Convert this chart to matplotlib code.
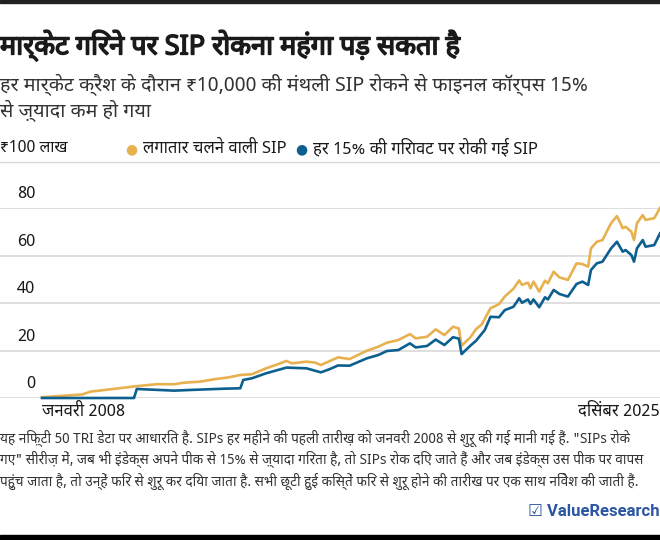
import matplotlib
matplotlib.use("Agg")
import matplotlib.pyplot as plt
import matplotlib.dates as mdates
import matplotlib.patheffects as pe
import pandas as pd

plt.rcParams['font.family'] = ['Noto Sans Devanagari', 'DejaVu Sans']

# values, in ₹ lakh
gold_dates = ["2008-01", "2009-03", "2009-06", "2009-11", "2010-10", "2011-05", "2011-11",
              "2012-02", "2012-08", "2013-01", "2013-06", "2013-10", "2014-02", "2014-07",
              "2014-11", "2015-02", "2015-04", "2015-09", "2015-12", "2016-02", "2016-05",
              "2016-08", "2016-12", "2017-06", "2017-10", "2018-01", "2018-05", "2018-09",
              "2018-11", "2019-03", "2019-06", "2019-09", "2019-12", "2020-02", "2020-03",
              "2020-06", "2020-08", "2020-10", "2021-01", "2021-04", "2021-06", "2021-09",
              "2021-11", "2021-12", "2022-02", "2022-03", "2022-04", "2022-06", "2022-08",
              "2022-09", "2022-11", "2023-01", "2023-04", "2023-07", "2023-09", "2023-11",
              "2023-12", "2024-02", "2024-04", "2024-07", "2024-09", "2024-11", "2024-12",
              "2025-02", "2025-03", "2025-04", "2025-06", "2025-07", "2025-10", "2025-12"]
gold_vals = [0.3, 1.5, 2.7, 3.4, 5.0, 5.8, 5.8,
             6.4, 6.9, 7.9, 8.7, 9.7, 10.0, 12.5,
             14.2, 15.6, 14.6, 15.3, 14.9, 13.9, 15.5,
             17.1, 16.4, 19.9, 21.6, 23.3, 24.4, 26.9,
             25.1, 25.8, 28.9, 26.5, 30.0, 29.3, 22.0,
             25.5, 29.0, 31.0, 37.8, 39.5, 42.7, 46.0,
             49.5, 47.6, 48.6, 46.2, 49.0, 44.8, 49.4,
             48.3, 53.2, 50.8, 49.7, 56.7, 56.4, 55.3,
             63.0, 65.8, 66.5, 73.6, 76.6, 71.5, 72.1,
             70.0, 66.5, 73.6, 77.0, 75.0, 75.7, 80.0]

blue_dates = ["2008-01", "2010-09", "2010-10", "2011-11", "2012-05", "2013-04", "2013-10",
              "2013-11", "2014-02", "2014-07", "2015-02", "2015-09", "2016-02", "2016-05",
              "2016-08", "2016-12", "2017-06", "2017-10", "2018-01", "2018-05", "2018-09",
              "2018-11", "2019-03", "2019-06", "2019-09", "2019-12", "2020-02", "2020-03",
              "2020-06", "2020-08", "2020-11", "2021-01", "2021-04", "2021-06", "2021-09",
              "2021-11", "2021-12", "2022-02", "2022-03", "2022-04", "2022-06", "2022-08",
              "2022-09", "2022-11", "2023-01", "2023-04", "2023-07", "2023-09", "2023-11",
              "2023-12", "2024-02", "2024-04", "2024-07", "2024-09", "2024-11", "2024-12",
              "2025-02", "2025-03", "2025-04", "2025-06", "2025-07", "2025-10", "2025-12"]
blue_vals = [0.0, 0.0, 3.8, 3.1, 3.4, 3.9, 4.1,
             7.6, 8.3, 10.4, 12.8, 12.5, 10.8, 12.1,
             13.7, 13.6, 16.7, 18.1, 19.8, 20.2, 23.0,
             21.3, 21.9, 24.6, 22.3, 25.6, 25.0, 18.5,
             22.0, 24.1, 28.6, 34.2, 34.0, 37.0, 38.4,
             42.0, 40.1, 41.5, 39.6, 41.5, 38.2, 42.4,
             41.5, 45.5, 43.8, 42.7, 48.0, 49.0, 47.6,
             53.9, 56.7, 57.4, 63.0, 65.8, 61.6, 62.3,
             60.2, 57.4, 63.0, 66.5, 63.7, 64.4, 69.3]

y_ticks = [0, 20, 40, 60, 80]

gold = "#e8b14f"
blue = "#0d5f8f"
grid = "#d9d9d9"
ink = "#1a1a1a"

fig = plt.figure(figsize=(6.6, 5.4), dpi=100)
W, H = 660, 540

def fx(px):
    return px / W

def fy(py):
    return 1 - py / H

# black bars top and bottom
fig.patches.append(plt.Rectangle((0, fy(3)), 1, 3 / H, transform=fig.transFigure,
                                 color="#222222", zorder=0))
fig.patches.append(plt.Rectangle((0, 0), 1, 5 / H, transform=fig.transFigure,
                                 color="#000000", zorder=0))

# title (bold faked with a stroke, the font has only one weight)
fig.text(0, fy(46), "मार्केट गिरने पर SIP रोकना महंगा पड़ सकता है",
         fontsize=19.5, color=ink, va="center", ha="left",
         path_effects=[pe.withStroke(linewidth=1.1, foreground=ink)])
fig.text(0, fy(85), "हर मार्केट क्रैश के दौरान ₹10,000 की मंथली SIP रोकने से फाइनल कॉर्पस 15%",
         fontsize=14.2, color="#333333", va="center", ha="left")
fig.text(0, fy(111), "से ज़्यादा कम हो गया",
         fontsize=14.2, color="#333333", va="center", ha="left")

# legend row
fig.text(0, fy(148), "₹100 लाख", fontsize=11.5, color=ink, va="center", ha="left")
fig.text(fx(131), fy(149), "●", fontsize=10, color=gold, va="center", ha="center",
         family=["DejaVu Sans"])
fig.text(fx(143), fy(148), "लगातार चलने वाली SIP", fontsize=12, color=ink,
         va="center", ha="left")
fig.text(fx(301), fy(149), "●", fontsize=10, color=blue, va="center", ha="center",
         family=["DejaVu Sans"])
fig.text(fx(313), fy(148), "हर 15% की गिरावट पर रोकी गई SIP", fontsize=12, color=ink,
         va="center", ha="left")
fig.add_artist(plt.Line2D([0, 1], [fy(162), fy(162)], transform=fig.transFigure,
                          color=grid, lw=1))

# chart area: 0 at y=398px, 80 at y=208px
ax = fig.add_axes([0, fy(398), 1, 190 / H])
gd = pd.to_datetime(gold_dates)
bd = pd.to_datetime(blue_dates)
ax.plot(gd, gold_vals, color=gold, lw=1.9, clip_on=False, zorder=3)
ax.plot(bd, blue_vals, color=blue, lw=1.9, clip_on=False, zorder=4)

start = mdates.date2num(pd.Timestamp("2008-01-01"))
end = mdates.date2num(pd.Timestamp("2025-12-01"))
left = start - (end - start) * 42 / 618
ax.set_xlim(left, end)
ax.set_ylim(0, 80)
for s in ax.spines.values():
    s.set_visible(False)
ax.set_xticks([])
ax.set_yticks([])
ax.patch.set_alpha(0)
for v in y_ticks:
    ax.axhline(v, color=grid, lw=1.2, zorder=1)
    ax.text(fx(35), v + 2.4, str(v), transform=ax.get_yaxis_transform(), ha="right",
            va="bottom", fontsize=12, color=ink)

fig.text(fx(42), fy(411), "जनवरी 2008", fontsize=12, color=ink, va="center", ha="left")
fig.text(1, fy(411), "दिसंबर 2025", fontsize=12, color=ink, va="center", ha="right")

notes = ['यह निफ़्टी 50 TRI डेटा पर आधारित है. SIPs हर महीने की पहली तारीख़ को जनवरी 2008 से शुरू की गई मानी गई हैं. "SIPs रोके',
         'गए" सीरीज़ में, जब भी इंडेक्स अपने पीक से 15% से ज़्यादा गिरता है, तो SIPs रोक दिए जाते हैं और जब इंडेक्स उस पीक पर वापस',
         'पहुंच जाता है, तो उन्हें फिर से शुरू कर दिया जाता है. सभी छूटी हुई किस्तें फिर से शुरू होने की तारीख पर एक साथ निवेश की जाती हैं.']
for i, line in enumerate(notes):
    fig.text(0, fy(438 + i * 21.5), line, fontsize=9.8, color="#333333",
             va="center", ha="left")

fig.text(1, fy(511), "☑ ValueResearch", fontsize=12, fontweight="bold", color="#2b56a3",
         va="center", ha="right", family=["Roboto", "DejaVu Sans"])

fig.savefig("out.png", dpi=100)
